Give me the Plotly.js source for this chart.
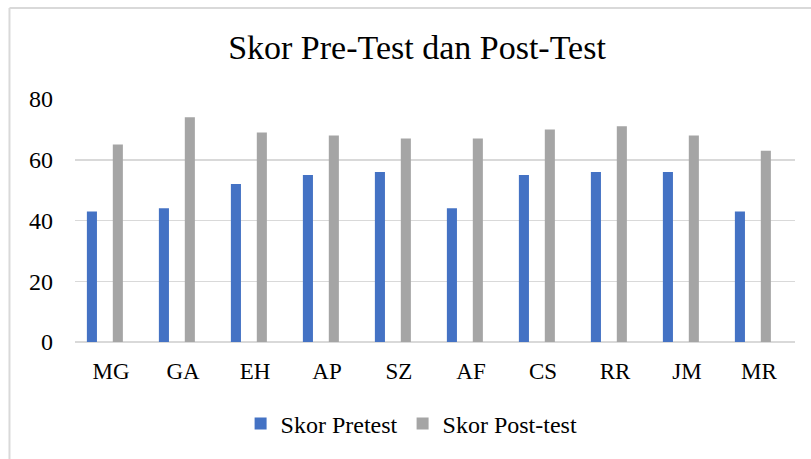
<!DOCTYPE html>
<html>
<head>
<meta charset="utf-8">
<script src="https://cdn.plot.ly/plotly-3.0.1.min.js"></script>
<style>html,body{margin:0;padding:0;background:#fff;}#chart{width:811px;height:459px;}</style>
</head>
<body>
<div id="chart"></div>
<script>
const categories = ["MG", "GA", "EH", "AP", "SZ", "AF", "CS", "RR", "JM", "MR"];
const pretest = [43, 44, 52, 55, 56, 44, 55, 56, 56, 43];
const posttest = [65, 74, 69, 68, 67, 67, 70, 71, 68, 63];
const seriesNames = ["Skor Pretest", "Skor Post-test"];
const yTicks = [0, 20, 40, 60, 80];

const FONT = "Liberation Serif, serif";

const traces = [
  {type: "bar", x: categories, y: pretest, name: seriesNames[0],
   marker: {color: "#4472C4"}, width: 0.14, offset: -0.335, hoverinfo: "x+y"},
  {type: "bar", x: categories, y: posttest, name: seriesNames[1],
   marker: {color: "#A5A5A5"}, width: 0.14, offset: 0.025, hoverinfo: "x+y"}
];

const layout = {
  width: 811, height: 459,
  margin: {l: 75, r: 16, t: 99, b: 117},
  paper_bgcolor: "#ffffff", plot_bgcolor: "#ffffff",
  font: {family: FONT, color: "#000000", size: 23},
  title: {text: "Skor Pre-Test dan Post-Test", font: {family: FONT, size: 34, color: "#000"},
          x: 0.475, xanchor: "center", y: 0.898, yanchor: "middle", xref: "paper", yref: "container"},
  showlegend: true,
  legend: {orientation: "h", x: 0.23, xanchor: "left", y: -0.337, yanchor: "middle",
           font: {family: FONT, size: 24, color: "#000"}, itemwidth: 30, tracegroupgap: 0,
           bgcolor: "rgba(0,0,0,0)"},
  xaxis: {type: "category", showgrid: false, showline: false, ticks: "",
          tickfont: {family: FONT, size: 23, color: "#000"}, ticklabelstandoff: 13, fixedrange: true},
  yaxis: {range: [0, 80], tickvals: yTicks, showgrid: true, gridcolor: "#D9D9D9", gridwidth: 1.5,
          zeroline: true, zerolinecolor: "#D9D9D9", zerolinewidth: 1.5, showline: false, ticks: "",
          tickfont: {family: FONT, size: 24, color: "#000"}, ticklabelstandoff: 21, fixedrange: true},
  shapes: [
    {type: "line", xref: "paper", yref: "paper", x0: -0.091, x1: 1.2, y0: 1.3745, y1: 1.3745,
     line: {color: "#D9D9D9", width: 2}},
    {type: "line", xref: "paper", yref: "paper", x0: -0.091, x1: -0.091, y0: 1.3745, y1: -1,
     line: {color: "#D9D9D9", width: 2}}
  ]
};

Plotly.newPlot("chart", traces, layout, {displayModeBar: false, staticPlot: true});
</script>
</body>
</html>
